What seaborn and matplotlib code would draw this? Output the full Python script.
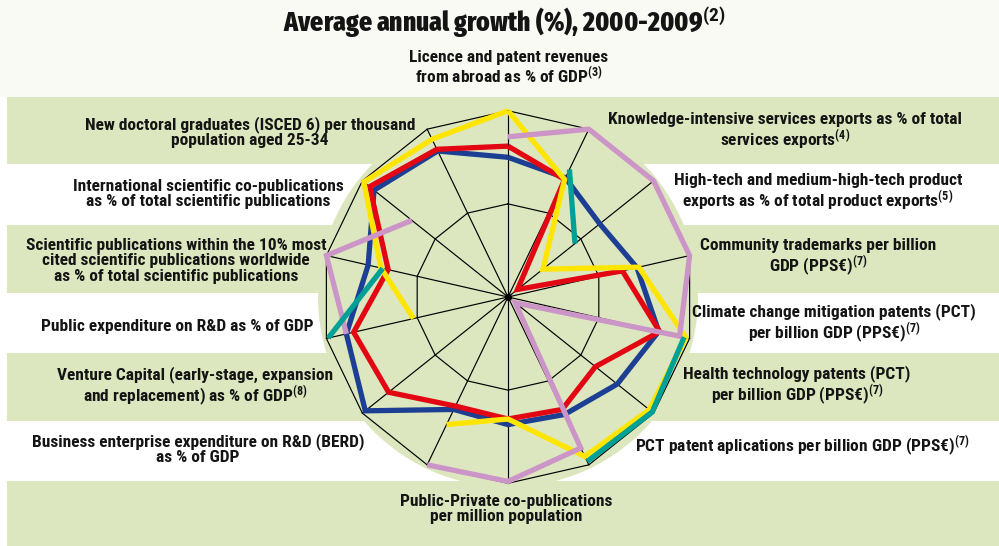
import numpy as np
import pandas as pd
import matplotlib
matplotlib.use("Agg")
import matplotlib.pyplot as plt
from matplotlib import font_manager
import seaborn as sns

# ---------------- data ----------------
axis_labels = [
    "Licence and patent revenues\nfrom abroad as % of GDP$^{(3)}$",
    "Knowledge-intensive services exports as % of total\nservices exports$^{(4)}$",
    "High-tech and medium-high-tech product\nexports as % of total product exports$^{(5)}$",
    "Community trademarks per billion\nGDP (PPS€)$^{(7)}$",
    "Climate change mitigation patents (PCT)\nper billion GDP (PPS€)$^{(7)}$",
    "Health technology patents (PCT)\nper billion GDP (PPS€)$^{(7)}$",
    "PCT patent aplications per billion GDP (PPS€)$^{(7)}$",
    "Public-Private co-publications\nper million population",
    "Business enterprise expenditure on R&D (BERD)\nas % of GDP",
    "Venture Capital (early-stage, expansion\nand replacement) as % of GDP$^{(8)}$",
    "Public expenditure on R&D as % of GDP",
    "Scientific publications within the 10% most\ncited scientific publications worldwide\nas % of total scientific publications",
    "International scientific co-publications\nas % of total scientific publications",
    "New doctoral graduates (ISCED 6) per thousand\npopulation aged 25-34",
]
title_text = "Average annual growth (%), 2000-2009$^{(2)}$"

nan = np.nan
blue_vals   = [0.75, 0.71, 0.63, 0.71, 0.83, 0.75, 0.70, 0.685, 0.67, 0.98, 0.89, 0.77, 0.92, 0.87]
red_vals    = [0.81, 0.70, 0.065, 0.63, 0.835, 0.60, 0.67, 0.655, 0.65, 0.82, 0.85, 0.66, 0.95, 0.88]
yellow_vals = [1.00, 0.70, 0.24, 0.72, 0.98, 0.97, 0.95, 0.655, 0.76, nan, 0.52, 0.70, 0.99, 0.94]
pink_vals   = [0.86, 1.00, 1.00, 1.00, 0.945, 0.05, 0.90, 0.99, 1.00, nan, 0.89, 1.00, 0.66, nan]
teal_vals   = [nan, 0.76, 0.46, nan, 0.97, 0.99, 0.98, nan, nan, nan, 0.99, 0.69, nan, nan]

series_names = ["Series 1", "Series 2", "Series 3", "Series 4", "Series 5"]
series_values = [blue_vals, red_vals, yellow_vals, pink_vals, teal_vals]
series_colors = ["#1c3f94", "#e30613", "#ffe500", "#cc95c8", "#00a096"]

# ---------------- fonts ----------------
names = {f.name for f in font_manager.fontManager.ttflist}


def pick(cands, default):
    for c in cands:
        if c in names:
            return c
    return default


lab_fam = pick(["Roboto Condensed", "IBM Plex Sans Condensed", "Liberation Sans Narrow"], "DejaVu Sans")
tit_fam = pick(["Fira Sans Extra Condensed", "Barlow Condensed", "Roboto Condensed"], lab_fam)
plt.rcParams["mathtext.fontset"] = "custom"
for k in ("rm", "it", "bf", "sf"):
    plt.rcParams["mathtext." + k] = f"{lab_fam}:bold"
lab_kw = dict(family=[lab_fam, "DejaVu Sans"], weight="bold", stretch="condensed", color="#141414")
tit_kw = dict(family=[tit_fam, "DejaVu Sans"], weight=800, stretch="condensed", color="#141414")

# ---------------- figure & background bands ----------------
W, H = 999, 546
fig = plt.figure(figsize=(W / 100, H / 100), dpi=100, facecolor="white")
bg = fig.add_axes([0, 0, 1, 1], zorder=0)
bg.set_xlim(0, W)
bg.set_ylim(H, 0)
bg.axis("off")
GREEN = "#dde7bf"
bg.axhspan(0, 97, color="#f9faf3", lw=0)
bands = [(97, 164), (225, 293), (353, 421), (481, 546)]
for y0, y1 in bands:
    bg.fill_between([7, W], y0, y1, color=GREEN, lw=0)

# ---------------- radar (polar axes) ----------------
n = len(axis_labels)
theta = np.arange(n + 1) * 2 * np.pi / n
cx, cy, rad = 508, 297, 190
ax = fig.add_axes([(cx - rad) / W, (H - cy - rad) / H, 2 * rad / W, 2 * rad / H],
                  projection="polar", zorder=1)
ax.set_theta_zero_location("N")
ax.set_theta_direction(-1)
ax.set_facecolor(GREEN)
ax.spines["polar"].set_visible(False)

# polygon grid
for t in theta[:-1]:
    ax.plot([t, t], [0, 1.0], color="black", lw=0.85, zorder=1)
for ring in (0.5, 1.0):
    ax.plot(theta, [ring] * (n + 1), color="black", lw=0.85, zorder=1)
ax.plot([0], [0], "o", color="black", ms=4, zorder=1)

# series: split into segments where values are missing
for si, (name, vals, col) in enumerate(zip(series_names, series_values, series_colors)):
    closed = list(vals) + [vals[0]]
    rows, seg, run = [], 0, []
    for i, v in enumerate(closed):
        if np.isnan(v):
            if len(run) > 1:
                rows += [(seg, t, r) for t, r in run]
                seg += 1
            run = []
        else:
            run.append((theta[i], v))
    if len(run) > 1:
        rows += [(seg, t, r) for t, r in run]
    df = pd.DataFrame(rows, columns=["seg", "theta", "value"])
    sns.lineplot(data=df, x="theta", y="value", units="seg", estimator=None,
                 sort=False, color=col, linewidth=3.8, ax=ax, legend=False)
    for ln in ax.lines[-df["seg"].nunique():]:
        ln.set_zorder(2 + si)
        ln.set_solid_capstyle("butt")
        ln.set_solid_joinstyle("miter")

ax.set_ylim(0, 1.02)
ax.set_xticks([])
ax.set_yticks([])
ax.grid(False)
ax.set_xlabel("")
ax.set_ylabel("")

# ---------------- texts ----------------
label_pos = [(509, 68), (785, 132), (818, 193), (818, 258), (834, 324), (797, 386),
             (802, 446), (506, 509), (198, 449), (195, 387), (177, 326), (176, 261),
             (208, 194), (250, 132)]
for lab, (x, y) in zip(axis_labels, label_pos):
    fig.text(x, y, lab, transform=bg.transData, ha="center", va="center",
             multialignment="center", fontsize=12.5, linespacing=1.02, **lab_kw)

fig.text(504, 22, title_text, transform=bg.transData, ha="center", va="center",
         fontsize=20, **tit_kw)

fig.savefig("out.png", dpi=100, facecolor="white")
